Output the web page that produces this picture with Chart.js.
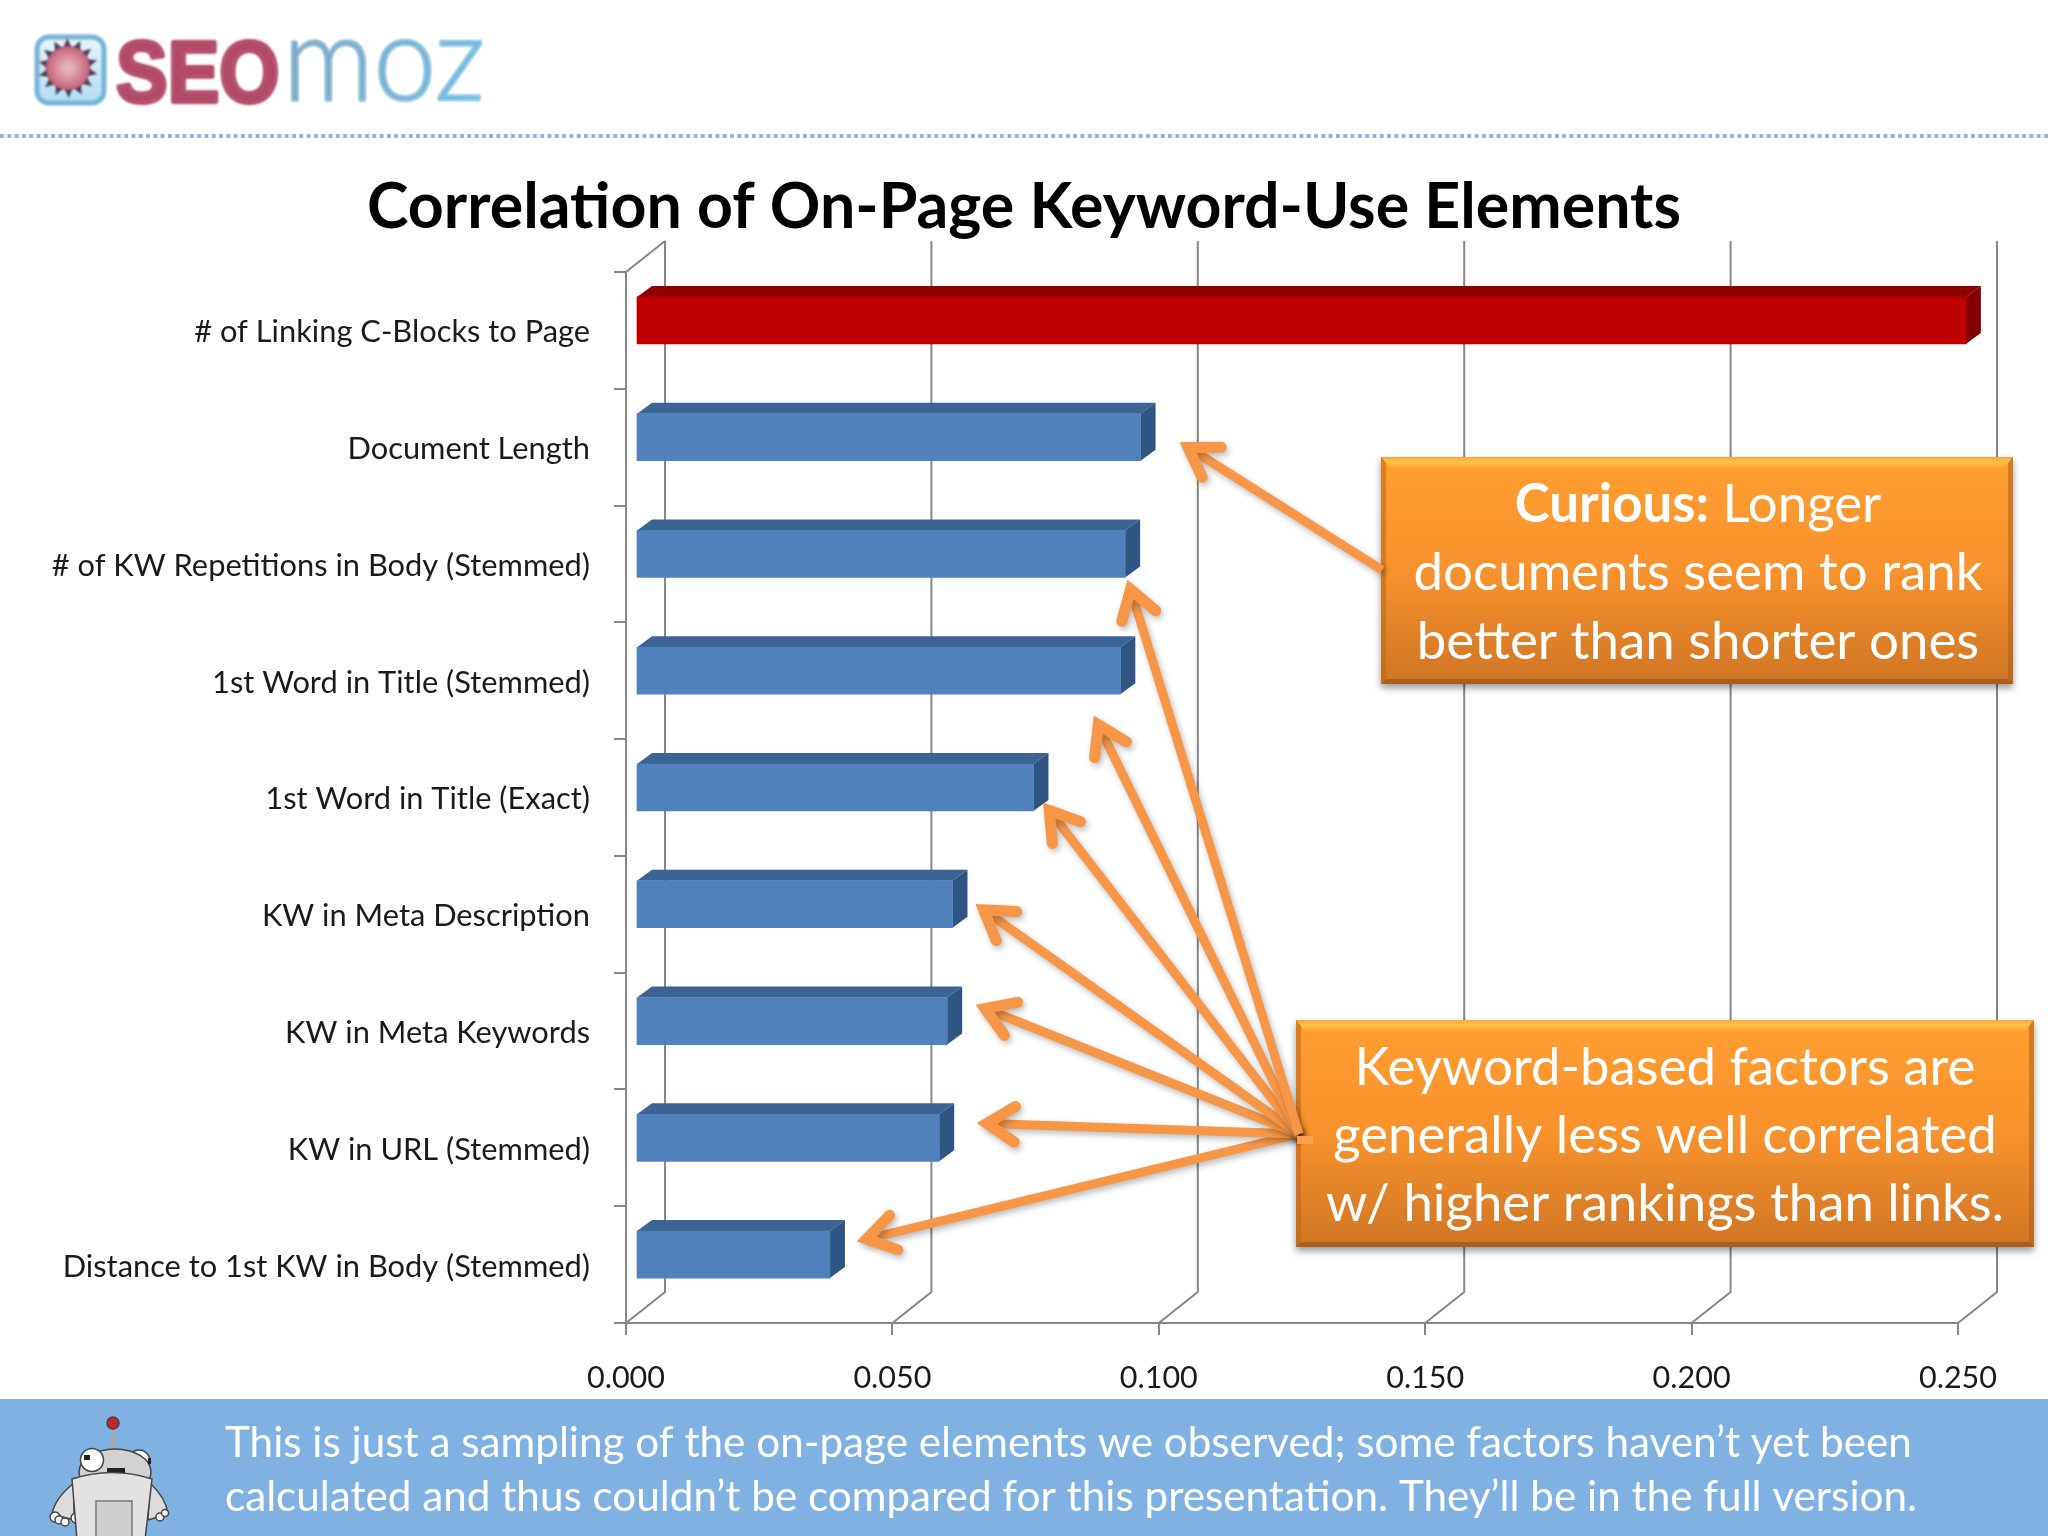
<!DOCTYPE html>
<html><head><meta charset="utf-8">
<style>html,body{margin:0;padding:0;background:#fff}canvas{display:block}</style>
<script src="https://cdn.jsdelivr.net/npm/chart.js@4"></script></head>
<body><canvas id="c" width="2048" height="1536" style="width:2048px;height:1536px"></canvas>
<script>
const categories = ["# of Linking C-Blocks to Page","Document Length","# of KW Repetitions in Body (Stemmed)","1st Word in Title (Stemmed)","1st Word in Title (Exact)","KW in Meta Description","KW in Meta Keywords","KW in URL (Stemmed)","Distance to 1st KW in Body (Stemmed)"];
const correlation = [0.2496,0.0947,0.0918,0.0909,0.0746,0.0594,0.0584,0.0569,0.0364];
const chartTitle = "Correlation of On-Page Keyword-Use Elements";
const footerLines = ["This is just a sampling of the on-page elements we observed; some factors haven\u2019t yet been","calculated and thus couldn\u2019t be compared for this presentation. They\u2019ll be in the full version."];
const calloutTop = ["documents seem to rank","better than shorter ones"];
const calloutBottom = ["Keyword-based factors are","generally less well correlated","w/ higher rankings than links."];

const FONT='Lato, "Noto Sans", sans-serif', ORANGE='#f79646', GRID='#868686';
const front=['#c00000','#4f81bd','#4f81bd','#4f81bd','#4f81bd','#4f81bd','#4f81bd','#4f81bd','#4f81bd'];
const topFace=['#8f0000','#3b6494','#3b6494','#3b6494','#3b6494','#3b6494','#3b6494','#3b6494','#3b6494'];
const sideFace=['#820000','#2f5583','#2f5583','#2f5583','#2f5583','#2f5583','#2f5583','#2f5583','#2f5583'];
const meas=document.createElement('canvas').getContext('2d');
function sizeFor(t,w,weight){meas.font=(weight||'400')+' 100px '+FONT;return 100*w/meas.measureText(t).width;}
const titleSize=sizeFor(chartTitle,1314,'700'), ySize=sizeFor(categories[0],396), xSize=sizeFor('0.000',78);
const AREA={left:626,right:1958,top:272,bottom:1323}, BACK={dx:39,dy:-31}, BAR={dx:10,dy:-10,ddx:15,ddy:-11};

function rr(ctx,x,y,w,h,r){ctx.beginPath();ctx.roundRect(x,y,w,h,r);}
function drawHeader(ctx){
  ctx.fillStyle='#fff';ctx.fillRect(0,0,2048,1536);
  ctx.save();ctx.strokeStyle='#8fb3e3';ctx.lineWidth=4;ctx.setLineDash([4,3.3]);ctx.beginPath();ctx.moveTo(0,136);ctx.lineTo(2048,136);ctx.stroke();ctx.restore();
  // logo icon
  ctx.save();ctx.filter='blur(0.9px)';
  let g=ctx.createLinearGradient(0,35,0,104);g.addColorStop(0,'#eaf5fb');g.addColorStop(1,'#b0def5');
  rr(ctx,37,37,67,66,12);ctx.fillStyle=g;ctx.fill();ctx.strokeStyle='#74b4d6';ctx.lineWidth=5;ctx.stroke();
  const cx=68,cy=68;
  ctx.fillStyle='#4a3a50';
  for(let i=0;i<14;i++){const a=i/14*2*Math.PI+0.2;ctx.beginPath();
    ctx.moveTo(cx+30*Math.cos(a),cy+30*Math.sin(a));
    ctx.lineTo(cx+19*Math.cos(a+0.26),cy+19*Math.sin(a+0.26));
    ctx.lineTo(cx+19*Math.cos(a-0.26),cy+19*Math.sin(a-0.26));ctx.closePath();ctx.fill();}
  g=ctx.createRadialGradient(cx,cy,3,cx,cy,22);g.addColorStop(0,'#e6b4bc');g.addColorStop(1,'#c4607a');
  ctx.fillStyle=g;ctx.beginPath();ctx.arc(cx,cy,22,0,7);ctx.fill();
  ctx.restore();
  // logo text
  ctx.save();ctx.filter='blur(0.8px)';ctx.textAlign='left';ctx.textBaseline='alphabetic';
  ctx.translate(116,102);ctx.scale(0.88,1);ctx.font='700 88px "Liberation Sans"';ctx.fillStyle='#b24a68';ctx.lineWidth=4;ctx.lineJoin='round';ctx.strokeStyle='#b24a68';ctx.fillText('SEO',0,0);ctx.strokeText('SEO',0,0);ctx.restore();
  ctx.save();ctx.filter='blur(0.8px)';ctx.textAlign='left';ctx.font='300 118px Lato';
  const mw=ctx.measureText('moz').width;ctx.translate(283,100);ctx.scale(202/mw,1);
  g=ctx.createLinearGradient(0,-60,mw,0);g.addColorStop(0,'#7aa8c4');g.addColorStop(1,'#72bce2');ctx.fillStyle=g;ctx.strokeStyle=g;ctx.lineWidth=1.5;ctx.fillText('moz',0,0);ctx.strokeText('moz',0,0);ctx.restore();
  // footer band
  ctx.fillStyle='#7fb2e3';ctx.fillRect(0,1399,2048,137);
  ctx.fillStyle='#fff';ctx.font=sizeFor(footerLines[0],1687)+'px '+FONT;ctx.textAlign='left';ctx.textBaseline='alphabetic';
  ctx.fillText(footerLines[0],225,1457);ctx.fillText(footerLines[1],225,1511);
  drawRobot(ctx);
}
function drawRobot(ctx){
  ctx.save();ctx.rect(0,1399,2048,137);ctx.clip();ctx.strokeStyle='#444';ctx.lineWidth=1.5;
  const ell=(x,y,rx,ry,f)=>{ctx.beginPath();ctx.ellipse(x,y,rx,ry,0,0,7);ctx.fillStyle=f;ctx.fill();ctx.stroke();};
  ctx.fillStyle='#a8a8a8';ctx.fillRect(111,1428,4,24);
  ell(113,1423,6,6,'#c0272d');
  ell(139,1461,11,11,'#fff');
  ell(115,1472,36,23,'#d2d2d2');
  ell(92,1460,11.5,11.5,'#fff');
  ctx.fillStyle='#222';ctx.fillRect(84,1455,6,5);ctx.fillRect(148,1458,3,6);ctx.fillRect(107,1468,18,5);
  ctx.fillStyle='#dcdcdc';
  ctx.beginPath();ctx.moveTo(74,1483);ctx.quadraticCurveTo(55,1498,52,1514);ctx.lineTo(74,1520);ctx.closePath();ctx.fill();ctx.stroke();
  ctx.beginPath();ctx.moveTo(150,1483);ctx.quadraticCurveTo(166,1498,168,1514);ctx.lineTo(148,1520);ctx.closePath();ctx.fill();ctx.stroke();
  [[55,1517,5],[59,1520,4],[65,1522,4],[76,1518,5],[160,1517,4],[165,1513,3.5]].forEach(h=>ell(h[0],h[1],h[2],h[2],'#fff'));
  ctx.fillStyle='#e2e2e2';ctx.beginPath();ctx.moveTo(72,1479);ctx.quadraticCurveTo(112,1466,152,1479);ctx.lineTo(145,1540);ctx.lineTo(77,1540);ctx.closePath();ctx.fill();ctx.stroke();
  ctx.fillStyle='#cfcfcf';ctx.strokeStyle='#777';ctx.fillRect(96,1501,36,40);ctx.strokeRect(96,1501,36,40);
  ctx.restore();
}
function drawCallout(ctx,l,t,r,b){
  ctx.save();
  ctx.shadowColor='rgba(0,0,0,.4)';ctx.shadowBlur=7;ctx.shadowOffsetY=4;ctx.fillStyle='#f08c2c';ctx.fillRect(l,t,r-l,b-t);ctx.restore();
  const g=ctx.createLinearGradient(0,t,0,b);g.addColorStop(0,'#ff9e30');g.addColorStop(.5,'#f8922d');g.addColorStop(1,'#cf7524');
  ctx.fillStyle=g;ctx.fillRect(l,t,r-l,b-t);
  const poly=(p,f)=>{ctx.beginPath();p.forEach((q,i)=>i?ctx.lineTo(q[0],q[1]):ctx.moveTo(q[0],q[1]));ctx.closePath();ctx.fillStyle=f;ctx.fill();};
  const tg=ctx.createLinearGradient(0,t,0,t+12);tg.addColorStop(0,'#f6a63a');tg.addColorStop(.4,'#ffc445');tg.addColorStop(1,'#ff9e30');
  poly([[l,t],[r,t],[r-10,t+12],[l+10,t+12]],tg);
  poly([[l,t],[l+5,t+6],[l+5,b-5],[l,b]],'rgba(190,100,20,.55)');
  poly([[r,t],[r-5,t+6],[r-5,b-5],[r,b]],'rgba(170,90,20,.5)');
  poly([[l,b],[l+5,b-5],[r-5,b-5],[r,b]],'#a85f20');
}
function arrow(ctx,tail,tip){
  const a=Math.atan2(tail[1]-tip[1],tail[0]-tip[0]),L=40,H=0.46,ca=Math.cos(a),sa=Math.sin(a);
  ctx.save();ctx.strokeStyle=ORANGE;
  ctx.shadowColor='rgba(0,0,0,.28)';ctx.shadowBlur=6;ctx.shadowOffsetX=2;ctx.shadowOffsetY=3;
  ctx.lineWidth=9;ctx.lineCap='butt';ctx.beginPath();ctx.moveTo(tail[0],tail[1]);ctx.lineTo(tip[0]+12*ca,tip[1]+12*sa);ctx.stroke();
  ctx.lineWidth=11;ctx.lineCap='round';ctx.lineJoin='miter';ctx.miterLimit=8;ctx.beginPath();
  ctx.moveTo(tip[0]+L*Math.cos(a+H)+4*ca,tip[1]+L*Math.sin(a+H)+4*sa);
  ctx.lineTo(tip[0]+12*ca,tip[1]+12*sa);
  ctx.lineTo(tip[0]+L*Math.cos(a-H)+4*ca,tip[1]+L*Math.sin(a-H)+4*sa);ctx.stroke();
  ctx.restore();
}
const ORIGIN=[1299,1134];
const arrowTips=[[855,1242],[975,1123],[974,1004],[974,903],[1042,801],[1093,714],[1127,578]];

const slide={id:'slide',
  afterLayout(c){c.titleBlock.left=0;c.titleBlock.right=c.width;},
  beforeDraw(c){drawHeader(c.ctx);},
  beforeDatasetsDraw(c){
    const ctx=c.ctx,x=c.scales.x;ctx.save();ctx.strokeStyle=GRID;ctx.lineWidth=2;
    x.ticks.forEach(t=>{const p=x.getPixelForValue(t.value);ctx.beginPath();ctx.moveTo(p+BACK.dx,AREA.top+BACK.dy);ctx.lineTo(p+BACK.dx,AREA.bottom+BACK.dy);ctx.lineTo(p,AREA.bottom);ctx.stroke();});
    ctx.beginPath();ctx.moveTo(AREA.left,AREA.top);ctx.lineTo(AREA.left+BACK.dx,AREA.top+BACK.dy);ctx.stroke();
    ctx.restore();
  },
  beforeDatasetDraw(c,args){
    const ctx=c.ctx;ctx.save();ctx.translate(BAR.dx,BAR.dy);
    c.getDatasetMeta(args.index).data.forEach((b,i)=>{
      const p=b.getProps(['x','y','base','height']),T=p.y-p.height/2,B=p.y+p.height/2,R=p.x,L=p.base;
      ctx.fillStyle=topFace[i];ctx.beginPath();ctx.moveTo(L,T);ctx.lineTo(L+BAR.ddx,T+BAR.ddy);ctx.lineTo(R+BAR.ddx,T+BAR.ddy);ctx.lineTo(R,T);ctx.closePath();ctx.fill();
      ctx.fillStyle=sideFace[i];ctx.beginPath();ctx.moveTo(R,T);ctx.lineTo(R+BAR.ddx,T+BAR.ddy);ctx.lineTo(R+BAR.ddx,B+BAR.ddy);ctx.lineTo(R,B);ctx.closePath();ctx.fill();
    });
  },
  afterDatasetDraw(c){c.ctx.restore();},
  afterDatasetsDraw(c){
    const ctx=c.ctx;
    drawCallout(ctx,1381,457,2013,684);
    drawCallout(ctx,1296,1020,2034,1247);
    arrow(ctx,[1382,570],[1178,441]);
    arrowTips.forEach(t=>arrow(ctx,ORIGIN,t));
    ctx.fillStyle='#f9a04e';ctx.fillRect(1297,1136,16,8);
    ctx.save();ctx.fillStyle='#fff';ctx.textBaseline='alphabetic';ctx.textAlign='left';
    const s1=sizeFor(calloutTop[0],569),cx1=1698;
    const head='Curious:',rest=' Longer';
    ctx.font='700 '+s1+'px '+FONT;const w1=ctx.measureText(head).width;
    ctx.font='400 '+s1+'px '+FONT;const w2=ctx.measureText(rest).width;
    const x0=cx1-(w1+w2)/2;
    ctx.font='700 '+s1+'px '+FONT;ctx.fillText(head,x0,522);
    ctx.font='400 '+s1+'px '+FONT;ctx.fillText(rest,x0+w1,522);
    ctx.textAlign='center';
    ctx.fillText(calloutTop[0],cx1,590);ctx.fillText(calloutTop[1],cx1,659);
    ctx.font=sizeFor(calloutBottom[2],678)+'px '+FONT;
    calloutBottom.forEach((t,i)=>ctx.fillText(t,1665,1085+i*68));
    ctx.restore();
  }
};

new Chart(document.getElementById('c'),{
  type:'bar',
  data:{labels:categories,datasets:[{data:correlation,backgroundColor:front,borderWidth:0,barThickness:47,clip:false}]},
  plugins:[slide],
  options:{
    indexAxis:'y',responsive:false,devicePixelRatio:1,animation:false,
    layout:{padding:{left:0,right:2048-AREA.right,top:0,bottom:100}},
    plugins:{legend:{display:false},tooltip:{enabled:false},
      title:{display:true,text:chartTitle,color:'#000',align:'center',
        font:{family:FONT,size:titleSize,weight:'700',lineHeight:1.2},
        padding:{top:207.5-0.6*titleSize,bottom:AREA.top-207.5-0.6*titleSize}}},
    scales:{
      x:{type:'linear',min:0,max:0.25,
        border:{color:GRID,width:2},
        grid:{drawOnChartArea:false,drawTicks:true,tickLength:12,color:GRID,lineWidth:2},
        ticks:{stepSize:0.05,maxRotation:0,padding:25,color:'#1a1a1a',font:{family:FONT,size:xSize},callback:v=>v.toFixed(3)},
        afterFit(s){s.height=1536-AREA.bottom-100;}},
      y:{type:'category',
        border:{color:GRID,width:2},
        grid:{drawOnChartArea:false,drawTicks:true,tickLength:12,color:GRID,lineWidth:2},
        ticks:{autoSkip:false,padding:24,labelOffset:2,color:'#1a1a1a',font:{family:FONT,size:ySize}},
        afterFit(s){s.width=AREA.left;}}
    }
  }
});
</script></body></html>
